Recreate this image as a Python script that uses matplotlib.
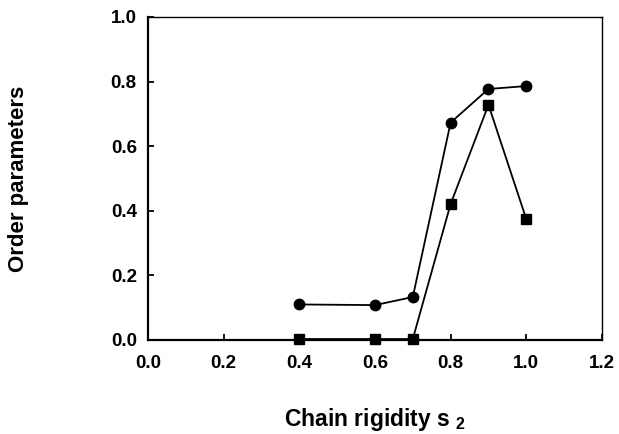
import matplotlib
matplotlib.use("Agg")
import matplotlib.pyplot as plt

# ── Data ─────────────────────────────────────────────────────────────────────
rigidity = [0.4, 0.6, 0.7, 0.8, 0.9, 1.0]
order_circle = [0.110, 0.108, 0.133, 0.673, 0.777, 0.786]
order_square = [0.003, 0.003, 0.003, 0.421, 0.728, 0.374]

x_ticks = [0.0, 0.2, 0.4, 0.6, 0.8, 1.0, 1.2]
y_ticks = [0.0, 0.2, 0.4, 0.6, 0.8, 1.0]

plt.rcParams["font.family"] = ["Liberation Sans", "DejaVu Sans"]
plt.rcParams["font.weight"] = "bold"
plt.rcParams["mathtext.fontset"] = "custom"
plt.rcParams["mathtext.rm"] = "Liberation Sans:bold"
plt.rcParams["mathtext.default"] = "regular"

fig = plt.figure(figsize=(6.19, 4.34), dpi=100)
ax = fig.add_axes([0.239, 0.2166, 0.7335, 0.7444])

ax.plot(rigidity, order_circle, "-o", color="black", lw=1.3, ms=7.5, clip_on=False)
ax.plot(rigidity, order_square, "-s", color="black", lw=1.3, ms=6.5, clip_on=False)

ax.set_xlim(0.0, 1.2)
ax.set_ylim(0.0, 1.0)
ax.set_xticks(x_ticks)
ax.set_yticks(y_ticks)
ax.set_xticklabels([f"{v:.1f}" for v in x_ticks])
ax.set_yticklabels([f"{v:.1f}" for v in y_ticks])

for side in ["left", "bottom"]:
    ax.spines[side].set_linewidth(1.6)
for side in ["top", "right"]:
    ax.spines[side].set_linewidth(1.0)

ax.tick_params(direction="in", length=4, width=1.3, labelsize=13.5)
ax.tick_params(axis="x", pad=11)
ax.tick_params(axis="y", pad=8)

ax.set_xlabel("Chain rigidity s $_{2}$", fontsize=16.5, fontweight="bold")
ax.set_ylabel("Order parameters", fontsize=16, fontweight="bold")
ax.xaxis.set_label_coords(0.5, -0.205)
ax.yaxis.set_label_coords(-0.262, 0.5)

fig.savefig("out.png", dpi=100)
